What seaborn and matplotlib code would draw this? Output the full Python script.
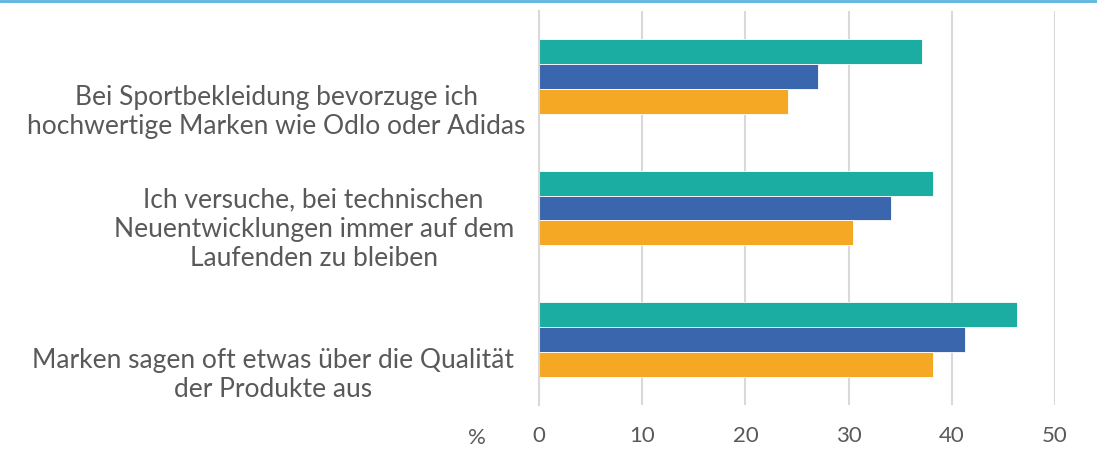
import pandas as pd
import seaborn as sns
import matplotlib.pyplot as plt
from matplotlib.transforms import ScaledTranslation
from matplotlib.lines import Line2D

categories = [
    "Bei Sportbekleidung bevorzuge ich\nhochwertige Marken wie Odlo oder Adidas",
    "Ich versuche, bei technischen\nNeuentwicklungen immer auf dem\nLaufenden zu bleiben",
    "Marken sagen oft etwas über die Qualität\nder Produkte aus",
]
series = ["Serie A", "Serie B", "Serie C"]
values_a = [37.1, 38.2, 46.3]
values_b = [27.0, 34.1, 41.3]
values_c = [24.1, 30.4, 38.2]
colors = ["#1BADA2", "#3A66AE", "#F5A823"]
x_ticks = [0, 10, 20, 30, 40, 50]

rows = []
for s, vals in zip(series, [values_a, values_b, values_c]):
    for c, v in zip(categories, vals):
        rows.append({"Kategorie": c, "Serie": s, "Wert": v})
df = pd.DataFrame(rows)

sns.set_theme(style="white")
plt.rcParams["font.family"] = ["Lato", "DejaVu Sans"]
text_color = "#595959"
grid_color = "#D9D9D9"

fig = plt.figure(figsize=(10.97, 4.66), dpi=100)
ax = fig.add_axes([539 / 1097, 1 - 405 / 466, (1055 - 539) / 1097, (405 - 11) / 466])

sns.barplot(data=df, x="Wert", y="Kategorie", hue="Serie", order=categories,
            hue_order=series, palette=colors, orient="h", width=0.57,
            edgecolor="white", linewidth=0.6, saturation=1, legend=False, ax=ax)

ax.set_xlim(0, 50)
ax.set_ylim(2.5, -0.5)
ax.set_xticks(x_ticks)
ax.set_xlabel("")
ax.set_ylabel("")
ax.grid(axis="x", color=grid_color, linewidth=1.5)
ax.set_axisbelow(True)
for side in ["top", "right", "bottom"]:
    ax.spines[side].set_visible(False)
ax.spines["left"].set_color(grid_color)
ax.spines["left"].set_linewidth(1.5)

ax.tick_params(axis="x", length=0, pad=15, labelsize=16, labelcolor=text_color)
ax.tick_params(axis="y", which="major", length=0, pad=16, labelsize=19, labelcolor=text_color)
ax.set_yticks([-0.5, 0.5, 1.5, 2.5], minor=True)
ax.tick_params(axis="y", which="minor", length=6, width=1.5, color=grid_color)

# Excel puts the wrapped labels at the bottom of each category band
label_dx = [0.09, -0.03, -0.03]
for lbl, dx in zip(ax.get_yticklabels(), label_dx):
    lbl.set_multialignment("center")
    lbl.set_linespacing(1.2)
    lbl.set_verticalalignment("bottom")
    lbl.set_transform(lbl.get_transform() + ScaledTranslation(dx, -0.625, fig.dpi_scale_trans))

ax.text(-0.12, -0.085, "%", transform=ax.transAxes, fontsize=16, color=text_color,
        ha="center", va="center")

fig.add_artist(Line2D([0, 1], [0.998, 0.998], transform=fig.transFigure,
                      color="#5BB5E0", linewidth=2))

fig.savefig("out.png", dpi=100)
